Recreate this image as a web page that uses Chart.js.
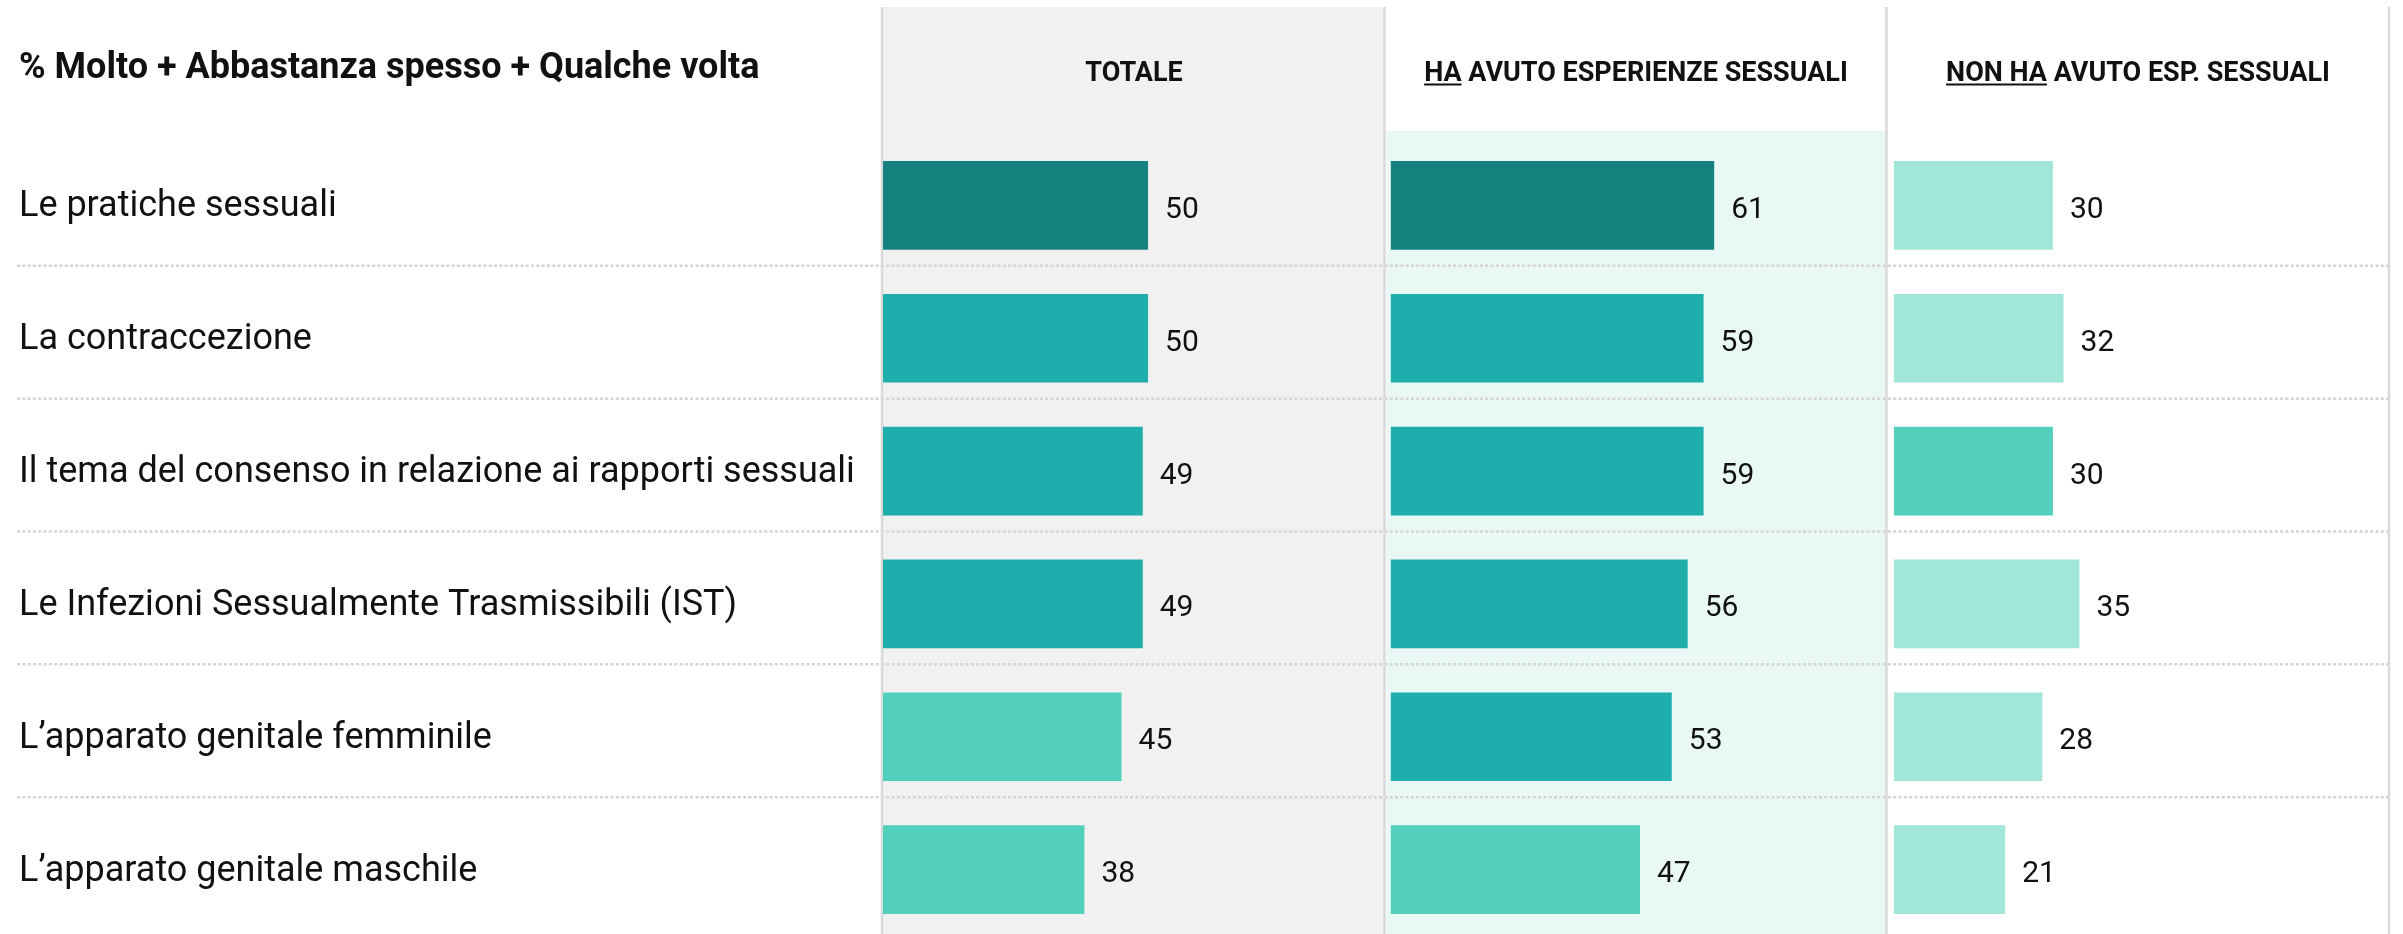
<!DOCTYPE html>
<html>
<head>
<meta charset="utf-8">
<script src="https://cdn.jsdelivr.net/npm/chart.js@4"></script>
<style>
  html, body { margin: 0; padding: 0; background: #fff; overflow: hidden; }
</style>
</head>
<body>
<canvas id="chart" width="2403" height="936"></canvas>
<script>
// Data
const categories = [
  "Le pratiche sessuali",
  "La contraccezione",
  "Il tema del consenso in relazione ai rapporti sessuali",
  "Le Infezioni Sessualmente Trasmissibili (IST)",
  "L’apparato genitale femminile",
  "L’apparato genitale maschile",
];
const totale = [50, 50, 49, 49, 45, 38];
const haAvuto = [61, 59, 59, 56, 53, 47];
const nonHaAvuto = [30, 32, 30, 35, 28, 21];

const chartTitle = "% Molto + Abbastanza spesso + Qualche volta";
const panelTitles = [
  { underline: "", rest: "TOTALE" },
  { underline: "HA", rest: " AVUTO ESPERIENZE SESSUALI" },
  { underline: "NON HA", rest: " AVUTO ESP. SESSUALI" },
];

// Colours
const DARK = "#168280";
const MID = "#1eaeac";
const LIGHT = "#53d0bb";
const PALE = "#a1e6d9";
const totaleColors = [DARK, MID, MID, MID, LIGHT, LIGHT];
const haColors = [DARK, MID, MID, MID, MID, LIGHT];
const nonHaColors = [PALE, PALE, LIGHT, PALE, PALE, PALE];

const FONT = "Roboto, 'Noto Sans', sans-serif";
const TEXT = "#111111";

// Panel backgrounds, borders and dotted row separators
const panelsPlugin = {
  id: "panels",
  beforeDraw(chart) {
    const { ctx, chartArea, scales } = chart;
    const axes = [scales.x1, scales.x2, scales.x3];
    const top = 7;
    const bottom = chart.height;
    ctx.save();
    ctx.fillStyle = "#f1f1f1";
    ctx.fillRect(axes[0].left, top, axes[0].right - axes[0].left - 1.5, bottom - top);
    ctx.fillStyle = "#e9f8f5";
    ctx.fillRect(axes[1].left + 1.5, chartArea.top - 8, axes[1].right - axes[1].left - 3, bottom);

    // row separators
    const y = scales.y;
    ctx.strokeStyle = "#d4d4d4";
    ctx.lineWidth = 2.5;
    ctx.setLineDash([3, 2.3]);
    for (let i = 0; i < categories.length - 1; i++) {
      const sy = (y.getPixelForValue(i) + y.getPixelForValue(i + 1)) / 2 - 6;
      ctx.beginPath();
      ctx.moveTo(17, sy);
      ctx.lineTo(axes[2].right, sy);
      ctx.stroke();
    }
    ctx.setLineDash([]);

    // vertical borders
    ctx.strokeStyle = "#d9d9d9";
    ctx.lineWidth = 2.5;
    [axes[0].left - 1, axes[1].left - 0.5, axes[2].left - 0.5, axes[2].right].forEach((x) => {
      ctx.beginPath();
      ctx.moveTo(x, top);
      ctx.lineTo(x, bottom);
      ctx.stroke();
    });
    ctx.restore();
  },
  afterDraw(chart) {
    const { ctx, scales } = chart;
    const axes = [scales.x1, scales.x2, scales.x3];
    ctx.save();
    ctx.fillStyle = TEXT;
    ctx.textBaseline = "alphabetic";
    ctx.textAlign = "left";

    // title
    ctx.font = "bold 36px " + FONT;
    ctx.fillText(chartTitle, 19, 78);

    // column headers
    ctx.font = "bold 27px " + FONT;
    panelTitles.forEach((t, i) => {
      const cx = (axes[i].left + axes[i].right) / 2;
      const full = t.underline + t.rest;
      const w = ctx.measureText(full).width;
      const x0 = cx - w / 2;
      ctx.fillText(full, x0, 81);
      if (t.underline) {
        const uw = ctx.measureText(t.underline).width;
        ctx.fillRect(x0, 83.5, uw, 2);
      }
    });
    ctx.restore();
  },
};

// Value labels right of each bar
const valuesPlugin = {
  id: "values",
  afterDatasetsDraw(chart) {
    const { ctx } = chart;
    ctx.save();
    ctx.font = "30px " + FONT;
    ctx.fillStyle = TEXT;
    ctx.textAlign = "left";
    ctx.textBaseline = "middle";
    chart.data.datasets.forEach((ds, di) => {
      const meta = chart.getDatasetMeta(di);
      meta.data.forEach((bar, i) => {
        ctx.fillText(String(ds.data[i]), bar.x + 17, bar.y + 5);
      });
    });
    ctx.restore();
  },
};

function panelAxis(min, max) {
  return {
    type: "linear",
    position: "bottom",
    stack: "panels",
    stackWeight: 1,
    min: min,
    max: max,
    display: false,
  };
}

const ctx = document.getElementById("chart").getContext("2d");

new Chart(ctx, {
  type: "bar",
  data: {
    labels: categories,
    datasets: [
      { data: totale, xAxisID: "x1", backgroundColor: totaleColors },
      { data: haAvuto, xAxisID: "x2", backgroundColor: haColors },
      { data: nonHaAvuto, xAxisID: "x3", backgroundColor: nonHaColors },
    ],
  },
  options: {
    indexAxis: "y",
    responsive: false,
    animation: false,
    layout: { padding: { left: 19, right: 14, top: 139, bottom: 0 } },
    datasets: {
      bar: { grouped: false, categoryPercentage: 1, barPercentage: 0.668, borderWidth: 0 },
    },
    plugins: {
      legend: { display: false },
      tooltip: { enabled: false },
    },
    scales: {
      y: {
        type: "category",
        position: "left",
        grid: { display: false },
        border: { display: false },
        ticks: {
          crossAlign: "far",
          color: TEXT,
          font: { family: FONT, size: 36 },
          labelOffset: 2,
          padding: 0,
        },
        afterFit: (scale) => {
          scale.width = 864;
          scale.paddingTop = 0;
          scale.paddingBottom = 0;
        },
      },
      x1: panelAxis(0, 94.7),
      x2: panelAxis(-1.1, 93.6),
      x3: panelAxis(-1.3, 93.4),
    },
  },
  plugins: [panelsPlugin, valuesPlugin],
});
</script>
</body>
</html>
